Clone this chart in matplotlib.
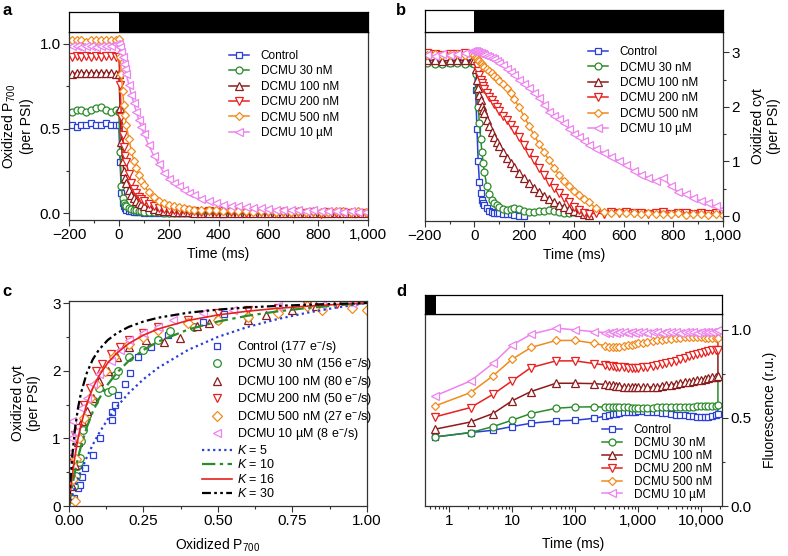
import numpy as np
import matplotlib.pyplot as plt
from matplotlib.ticker import MultipleLocator, FuncFormatter, LogLocator, NullFormatter, FixedLocator

plt.rcParams['font.family'] = ['Liberation Sans', 'DejaVu Sans']
plt.rcParams['mathtext.fontset'] = 'custom'
plt.rcParams['mathtext.rm'] = 'Liberation Sans'
plt.rcParams['mathtext.it'] = 'Liberation Sans:italic'
plt.rcParams['mathtext.bf'] = 'Liberation Sans:bold'
plt.rcParams['axes.linewidth'] = 0.9

labels = ['Control', 'DCMU 30 nM', 'DCMU 100 nM', 'DCMU 200 nM', 'DCMU 500 nM', 'DCMU 10 \u00b5M']
rates = ['177', '156', '80', '50', '27', '8']
colors = ['#2a3fd6', '#2a8c2a', '#8e1b1b', '#e8201e', '#f08c1e', '#ee82ee']
markers = ['s', 'o', '^', 'v', 'D', '<']
msizes = [4.5, 5, 5.5, 5.5, 4.5, 5.5]

# ---- panel a: oxidized P700 vs time
ta = [-190, -170, -150, -130, -110, -90, -70, -50, -30, -10,
      0, 5, 10, 15, 20, 25, 30, 40, 50, 60, 70, 80, 90, 100,
      120, 140, 160, 180, 200, 220, 240, 260, 280, 300,
      330, 360, 390, 420, 450, 480, 510, 540, 570, 600, 630, 660, 690,
      720, 750, 780, 810, 840, 870, 900, 930, 960, 990]
a_control = [0.52, 0.51, 0.52, 0.52, 0.53, 0.52, 0.52, 0.53, 0.52, 0.52,
             0.52, 0.30, 0.12, 0.06, 0.04, 0.03, 0.02, 0.015, 0.012, 0.01, 0.008, 0.006, 0.005, 0.004,
             0.003, 0.002, 0.002, 0.001, 0.0, 0.0, 0.0, 0.0, 0.0, 0.0,
             0.0, 0.002, 0.0, -0.002, 0.0, 0.001, 0.0, 0.0, 0.002, 0.0, 0.0, -0.001, 0.0,
             0.001, 0.0, 0.0, 0.0, 0.002, 0.0, 0.0, 0.0, 0.001, 0.0]
a_30 = [0.60, 0.61, 0.61, 0.60, 0.61, 0.62, 0.63, 0.61, 0.60, 0.61,
        0.60, 0.36, 0.16, 0.09, 0.06, 0.05, 0.04, 0.03, 0.025, 0.02, 0.018, 0.015, 0.012, 0.01,
        0.008, 0.006, 0.005, 0.004, 0.003, 0.002, 0.002, 0.001, 0.0, 0.0,
        0.002, 0.0, 0.001, 0.0, -0.001, 0.0, 0.002, 0.0, 0.0, 0.001, 0.0, 0.0, 0.0,
        0.0, 0.001, 0.0, 0.0, 0.0, 0.002, 0.0, 0.0, 0.0, 0.0]
a_100 = [0.82, 0.83, 0.83, 0.83, 0.83, 0.83, 0.83, 0.83, 0.83, 0.82,
         0.82, 0.62, 0.42, 0.31, 0.25, 0.21, 0.18, 0.14, 0.11, 0.09, 0.075, 0.062, 0.052, 0.045,
         0.034, 0.026, 0.02, 0.016, 0.012, 0.01, 0.008, 0.006, 0.005, 0.004,
         0.004, 0.003, 0.002, 0.003, 0.001, 0.002, 0.0, 0.002, 0.001, 0.0, 0.002, 0.0, 0.001,
         0.0, 0.002, 0.0, 0.001, 0.0, 0.0, 0.002, 0.0, 0.001, 0.0]
a_200 = [0.92, 0.93, 0.92, 0.93, 0.92, 0.93, 0.92, 0.93, 0.93, 0.92,
         0.92, 0.76, 0.57, 0.46, 0.39, 0.34, 0.30, 0.23, 0.18, 0.145, 0.118, 0.097, 0.082, 0.07,
         0.052, 0.04, 0.032, 0.026, 0.022, 0.02, 0.016, 0.018, 0.012, 0.015,
         0.01, 0.014, 0.008, 0.012, 0.006, 0.01, 0.004, 0.012, 0.006, 0.01, 0.002, 0.008, 0.004,
         0.01, 0.003, 0.008, -0.002, 0.006, 0.002, 0.008, 0.0, 0.004, 0.0]
a_500 = [1.02, 1.02, 1.02, 1.01, 1.02, 1.02, 1.02, 1.02, 1.02, 1.02,
         1.03, 0.92, 0.82, 0.72, 0.64, 0.58, 0.52, 0.44, 0.37, 0.31, 0.265, 0.225, 0.19, 0.165,
         0.125, 0.095, 0.075, 0.06, 0.05, 0.042, 0.035, 0.03, 0.025, 0.022,
         0.02, 0.018, 0.022, 0.015, 0.018, 0.012, 0.016, 0.01, 0.014, 0.012, 0.01, 0.015, 0.008,
         0.012, 0.01, 0.014, 0.008, 0.01, 0.012, 0.015, 0.008, 0.012, 0.006]
a_10u = [0.99, 0.99, 0.98, 0.99, 0.99, 0.98, 0.99, 0.99, 0.99, 1.0,
         1.0, 0.98, 0.95, 0.92, 0.88, 0.85, 0.82, 0.76, 0.70, 0.65, 0.60, 0.55, 0.51, 0.47,
         0.40, 0.34, 0.29, 0.24, 0.205, 0.18, 0.16, 0.14, 0.12, 0.105,
         0.085, 0.07, 0.06, 0.05, 0.045, 0.04, 0.035, 0.03, 0.028, 0.025, 0.022, 0.02, 0.02,
         0.018, 0.015, 0.018, 0.014, 0.012, 0.015, 0.01, 0.012, 0.01, 0.008]

# ---- panel b: oxidized cyt vs time (series end at different times)
tb = [-190, -160, -130, -100, -70, -40, -10,
      0, 5, 10, 15, 20, 25, 30, 35, 40, 50, 60, 70, 80, 90, 100,
      115, 130, 145, 160, 180, 200, 220, 240, 260, 280, 300, 320, 340, 360,
      380, 400, 420, 440, 460, 490, 520, 550, 580, 610, 640, 670, 700, 730,
      760, 790, 820, 850, 880, 910, 940, 970, 1000]
b_control = [2.82, 2.80, 2.80, 2.81, 2.82, 2.81, 2.82,
             2.80, 2.3, 1.6, 1.0, 0.62, 0.42, 0.3, 0.24, 0.2, 0.14, 0.1, 0.08, 0.065, 0.055, 0.05,
             0.04, 0.035, 0.03, 0.02, 0.01, 0.0]
b_30 = [2.80, 2.78, 2.79, 2.80, 2.80, 2.78, 2.80,
        2.78, 2.6, 2.3, 2.0, 1.7, 1.42, 1.18, 0.97, 0.8, 0.55, 0.4, 0.3, 0.24, 0.2, 0.16,
        0.13, 0.12, 0.13, 0.15, 0.13, 0.1, 0.08, 0.07, 0.09, 0.1, 0.11, 0.09, 0.07, 0.06,
        0.05, 0.08]
b_100 = [2.85, 2.86, 2.84, 2.85, 2.86, 2.85, 2.85,
         2.85, 2.7, 2.5, 2.35, 2.22, 2.12, 2.02, 1.95, 1.88, 1.76, 1.64, 1.54, 1.45, 1.36, 1.28,
         1.17, 1.07, 0.98, 0.9, 0.78, 0.69, 0.6, 0.52, 0.44, 0.37, 0.31, 0.26, 0.21, 0.17,
         0.13, 0.1, 0.07, 0.04, 0.02]
b_200 = [2.98, 2.97, 2.95, 2.97, 2.96, 2.98, 2.96,
         2.95, 2.85, 2.75, 2.66, 2.58, 2.5, 2.44, 2.38, 2.33, 2.25, 2.18, 2.12, 2.05, 1.99, 1.93,
         1.84, 1.75, 1.67, 1.58, 1.45, 1.31, 1.16, 1.02, 0.88, 0.75, 0.63, 0.52, 0.42, 0.33,
         0.25, 0.17, 0.11, 0.06, 0.03, 0.06, 0.04, 0.07, 0.05, 0.08, 0.05, 0.06, 0.04, 0.05,
         0.07, 0.04, 0.06, 0.05, 0.04, 0.06, 0.03, 0.05, 0.04]
b_500 = [2.95, 2.96, 2.95, 2.94, 2.96, 2.95, 2.96,
         2.95, 2.92, 2.89, 2.86, 2.83, 2.8, 2.78, 2.75, 2.73, 2.69, 2.65, 2.61, 2.57, 2.52, 2.48,
         2.41, 2.34, 2.25, 2.14, 1.99, 1.82, 1.65, 1.48, 1.32, 1.17, 1.02, 0.88, 0.76, 0.65,
         0.55, 0.46, 0.38, 0.31, 0.25, 0.14, 0.08, 0.06, 0.07, 0.05, 0.06, 0.04, 0.05, 0.03,
         0.04, 0.03, 0.05, 0.02, 0.04, 0.03, 0.02, 0.04, 0.02]
b_10u = [2.95, 2.93, 2.96, 2.94, 2.97, 2.99, 3.02,
         3.03, 3.02, 3.0, 3.01, 2.99, 2.98, 2.97, 2.97, 2.95, 2.93, 2.91, 2.89, 2.87, 2.84, 2.81,
         2.76, 2.7, 2.64, 2.58, 2.5, 2.42, 2.34, 2.26, 2.16, 2.03, 1.9, 1.84, 1.78, 1.7,
         1.6, 1.5, 1.45, 1.38, 1.3, 1.22, 1.16, 1.08, 1.01, 0.93, 0.82, 0.76, 0.7, 0.64,
         0.69, 0.55, 0.44, 0.4, 0.33, 0.28, 0.24, 0.18, 0.13]

# ---- panel c: oxidized cyt vs oxidized P700
c_x = [
    [0.017, 0.031, 0.037, 0.043, 0.054, 0.082, 0.104, 0.143, 0.145, 0.154, 0.166, 0.188, 0.206, 0.232, 0.275, 0.333, 0.45, 0.52],
    [0.01, 0.018, 0.024, 0.028, 0.033, 0.037, 0.04, 0.048, 0.062, 0.084, 0.1, 0.13, 0.143, 0.155, 0.165, 0.2, 0.25, 0.3, 0.34, 0.42, 0.5, 0.6],
    [0.01, 0.02, 0.03, 0.045, 0.06, 0.08, 0.1, 0.13, 0.16, 0.2, 0.26, 0.32, 0.373, 0.43, 0.47, 0.6, 0.66, 0.75, 0.83],
    [0.005, 0.01, 0.02, 0.03, 0.05, 0.07, 0.09, 0.11, 0.14, 0.17, 0.2, 0.25, 0.3, 0.4, 0.5, 0.6, 0.7, 0.8, 0.9],
    [0.02, 0.015, 0.025, 0.035, 0.05, 0.07, 0.09, 0.12, 0.15, 0.2, 0.25, 0.3, 0.4, 0.5, 0.6, 0.7, 0.8, 0.85, 0.95, 1.0],
    [0.005, 0.008, 0.01, 0.02, 0.04, 0.06, 0.08, 0.1, 0.14, 0.17, 0.2, 0.25, 0.3, 0.35, 0.45, 0.55, 0.7, 0.85, 0.95, 1.0],
]
c_y = [
    [0.12, 0.26, 0.31, 0.43, 0.56, 0.75, 1.0, 1.27, 1.39, 1.49, 1.64, 1.80, 1.97, 2.2, 2.35, 2.53, 2.72, 2.84],
    [0.1, 0.3, 0.45, 0.59, 0.65, 0.71, 0.96, 1.13, 1.35, 1.55, 1.75, 1.68, 1.72, 1.94, 2.0, 2.2, 2.31, 2.45, 2.58, 2.65, 2.75, 2.8],
    [0.3, 0.6, 0.95, 1.25, 1.4, 1.6, 1.85, 2.0, 2.2, 2.35, 2.45, 2.43, 2.49, 2.66, 2.7, 2.75, 2.82, 2.9, 2.95],
    [0.4, 0.7, 1.05, 1.15, 1.5, 1.75, 2.0, 2.1, 2.25, 2.35, 2.45, 2.55, 2.65, 2.75, 2.85, 2.9, 2.93, 2.97, 2.98],
    [0.08, 0.4, 0.7, 1.0, 1.3, 1.6, 1.8, 2.0, 2.2, 2.4, 2.5, 2.6, 2.7, 2.75, 2.8, 2.85, 2.95, 2.9, 2.93, 2.9],
    [0.8, 1.0, 1.25, 1.1, 1.45, 1.6, 1.8, 1.95, 2.15, 2.3, 2.45, 2.55, 2.65, 2.75, 2.85, 2.9, 2.95, 2.97, 3.0, 3.03],
]
k_x = [0, 0.005, 0.01, 0.02, 0.03, 0.04, 0.06, 0.08, 0.1, 0.13, 0.16, 0.2, 0.25, 0.3, 0.4, 0.5, 0.6, 0.7, 0.8, 0.9, 1.0]
k5 = [0, 0.074, 0.144, 0.278, 0.402, 0.517, 0.726, 0.909, 1.071, 1.283, 1.463, 1.667, 1.875, 2.045, 2.308, 2.5, 2.647, 2.763, 2.857, 2.935, 3.0]
k10 = [0, 0.144, 0.275, 0.508, 0.709, 0.882, 1.169, 1.395, 1.579, 1.797, 1.967, 2.143, 2.308, 2.432, 2.609, 2.727, 2.813, 2.877, 2.927, 2.967, 3.0]
k16 = [0, 0.223, 0.417, 0.738, 0.993, 1.2, 1.516, 1.745, 1.92, 2.115, 2.259, 2.4, 2.526, 2.618, 2.743, 2.824, 2.88, 2.922, 2.954, 2.979, 3.0]
k30 = [0, 0.393, 0.698, 1.139, 1.444, 1.667, 1.971, 2.169, 2.308, 2.453, 2.553, 2.647, 2.727, 2.784, 2.857, 2.903, 2.935, 2.958, 2.975, 2.989, 3.0]

# ---- panel d: fluorescence vs log time
td = [0.6, 2.2, 5, 10, 20, 50, 100, 200, 300, 350, 400, 450, 500, 600, 700, 800, 900, 1000,
      1200, 1400, 1700, 2000, 2400, 2800, 3300, 4000, 4700, 5500, 6500, 7500, 8700, 10000,
      11500, 13000, 15000, 17000, 18500]
d_control = [0.392, 0.417, 0.43, 0.451, 0.47, 0.483, 0.487, 0.498, 0.51, 0.516, 0.52, 0.524, 0.527, 0.531, 0.534, 0.535, 0.536, 0.537,
             0.537, 0.536, 0.534, 0.532, 0.529, 0.526, 0.522, 0.519, 0.516, 0.514, 0.512, 0.51, 0.508, 0.506,
             0.505, 0.507, 0.511, 0.517, 0.525]
d_30 = [0.392, 0.417, 0.451, 0.487, 0.525, 0.555, 0.562, 0.563, 0.562, 0.562, 0.561, 0.561, 0.56, 0.56, 0.56, 0.559, 0.559, 0.559,
        0.559, 0.559, 0.559, 0.56, 0.56, 0.56, 0.561, 0.561, 0.562, 0.562, 0.563, 0.564, 0.565, 0.566,
        0.567, 0.568, 0.569, 0.57, 0.572]
d_100 = [0.436, 0.477, 0.525, 0.597, 0.65, 0.697, 0.697, 0.695, 0.69, 0.687, 0.685, 0.683, 0.681, 0.678, 0.676, 0.675, 0.674, 0.673,
         0.673, 0.674, 0.676, 0.678, 0.681, 0.685, 0.689, 0.694, 0.698, 0.702, 0.706, 0.71, 0.714, 0.718,
         0.722, 0.726, 0.73, 0.734, 0.738]
d_200 = [0.506, 0.559, 0.634, 0.71, 0.786, 0.824, 0.824, 0.809, 0.80, 0.797, 0.794, 0.792, 0.79, 0.787, 0.786, 0.785, 0.785, 0.786,
         0.788, 0.79, 0.794, 0.798, 0.804, 0.81, 0.817, 0.826, 0.834, 0.842, 0.85, 0.857, 0.864, 0.87,
         0.875, 0.879, 0.883, 0.886, 0.888]
d_500 = [0.568, 0.644, 0.739, 0.833, 0.9, 0.94, 0.94, 0.924, 0.91, 0.905, 0.902, 0.9, 0.903, 0.907, 0.912, 0.916, 0.92, 0.923,
         0.928, 0.932, 0.937, 0.941, 0.945, 0.948, 0.951, 0.954, 0.956, 0.957, 0.958, 0.958, 0.958, 0.957,
         0.956, 0.955, 0.954, 0.953, 0.952]
d_10u = [0.625, 0.71, 0.81, 0.913, 0.975, 1.01, 1.0, 0.99, 0.985, 0.985, 0.99, 0.985, 0.99, 0.99, 0.985, 0.99, 0.985, 0.99,
         0.99, 0.985, 0.99, 0.99, 0.985, 0.99, 0.99, 0.99, 0.985, 0.99, 0.99, 0.99, 0.985, 0.99,
         0.99, 0.99, 0.99, 0.995, 1.0]
# value each trace jumps to at the last time point (vertical end segments)
d_end = [0.572, 0.738, 0.888, 0.952, None, None]

a_data = [a_control, a_30, a_100, a_200, a_500, a_10u]
b_data = [b_control, b_30, b_100, b_200, b_500, b_10u]
d_data = [d_control, d_30, d_100, d_200, d_500, d_10u]


def thousands(v, pos):
    if v >= 1 or v <= -1 or v == 0:
        return '{:,.0f}'.format(v).replace('-', '\u2212')
    return '{:g}'.format(v)


def style_axes(ax):
    ax.tick_params(which='both', direction='out', width=0.8, labelsize=11, pad=2, color='#333333')
    ax.tick_params(which='major', length=4)
    ax.tick_params(which='minor', length=2.5)
    for s in ax.spines.values():
        s.set_color('#333333')


def draw_bar(bax, xmin, xmax, black_from, black_to, log=False):
    if log:
        bax.set_xscale('log')
    bax.set_xlim(xmin, xmax)
    bax.set_ylim(0, 1)
    bax.axvspan(black_from, black_to, color='black', lw=0)
    bax.set_xticks([])
    bax.set_yticks([])
    bax.minorticks_off()
    for s in bax.spines.values():
        s.set_linewidth(0.9)


def series(ax, t, y, i, markevery=None):
    ax.plot(t, y, color=colors[i], lw=1.1, marker=markers[i], ms=msizes[i], mfc='white',
            mec=colors[i], mew=0.9, label=labels[i], markevery=markevery)


fig = plt.figure(figsize=(7.88, 5.56), dpi=100)

# panel a
ax = fig.add_axes([0.0876, 0.6043, 0.3794, 0.3381])
bar = fig.add_axes([0.0876, 0.9424, 0.3794, 0.036])
draw_bar(bar, -200, 1000, 0, 1000)
for i in range(6):
    series(ax, ta, a_data[i], i)
ax.set_xlim(-200, 1000)
ax.set_ylim(-0.04, 1.07)
ax.xaxis.set_major_locator(MultipleLocator(200))
ax.xaxis.set_minor_locator(MultipleLocator(100))
ax.xaxis.set_major_formatter(FuncFormatter(thousands))
ax.yaxis.set_major_locator(FixedLocator([0, 0.5, 1.0]))
ax.yaxis.set_minor_locator(FixedLocator([0.25, 0.75]))
ax.yaxis.set_major_formatter(FuncFormatter(lambda v, p: '{:.1f}'.format(v)))
style_axes(ax)
ax.set_xlabel('Time (ms)', fontsize=10, labelpad=3)
ax.set_ylabel('Oxidized P$_{700}$\n(per PSI)', fontsize=10, labelpad=4)
ax.legend(loc='upper left', bbox_to_anchor=(0.535, 0.905), frameon=False, fontsize=8.5,
          borderpad=0, borderaxespad=0, labelspacing=0.29, handlelength=1.7, handletextpad=1.0)
fig.text(0.003, 0.995, 'a', fontsize=12, fontweight='bold', va='top', ha='left')

# panel b
ax = fig.add_axes([0.539, 0.6025, 0.3786, 0.340])
bar = fig.add_axes([0.539, 0.9424, 0.3786, 0.0396])
draw_bar(bar, -200, 1000, 0, 1000)
for i in range(6):
    series(ax, tb[:len(b_data[i])], b_data[i], i)
ax.set_xlim(-200, 1000)
ax.set_ylim(-0.09, 3.37)
ax.xaxis.set_major_locator(MultipleLocator(200))
ax.xaxis.set_minor_locator(MultipleLocator(100))
ax.xaxis.set_major_formatter(FuncFormatter(thousands))
ax.yaxis.set_major_locator(FixedLocator([0, 1, 2, 3]))
ax.yaxis.set_minor_locator(FixedLocator([0.5, 1.5, 2.5]))
ax.yaxis.tick_right()
ax.yaxis.set_label_position('right')
style_axes(ax)
ax.set_xlabel('Time (ms)', fontsize=10, labelpad=3)
ax.set_ylabel('Oxidized cyt\n(per PSI)', fontsize=10, labelpad=8)
ax.legend(loc='upper left', bbox_to_anchor=(0.547, 0.925), frameon=False, fontsize=8.5,
          borderpad=0, borderaxespad=0, labelspacing=0.29, handlelength=1.7, handletextpad=1.0)
fig.text(0.502, 0.995, 'b', fontsize=12, fontweight='bold', va='top', ha='left')

# panel c
ax = fig.add_axes([0.0876, 0.0899, 0.378, 0.3687])
for i in range(6):
    ax.plot(c_x[i], c_y[i], ls='none', marker=markers[i], ms=msizes[i] + 0.5, mfc='white',
            mec=colors[i], mew=0.9, label='{} ({} e$^{{-}}$/s)'.format(labels[i], rates[i]))
ax.plot(k_x, k5, color='#2a3fd6', lw=1.6, ls=(0, (1, 1.5)), label='$K$ = 5')
ax.plot(k_x, k10, color='#2a8c2a', lw=1.6, ls=(0, (6, 2, 1.5, 2)), label='$K$ = 10')
ax.plot(k_x, k16, color='#e8201e', lw=1.2, ls='-', label='$K$ = 16')
ax.plot(k_x, k30, color='black', lw=1.6, ls=(0, (4, 1.5, 1.2, 1.5, 1.2, 1.5)), label='$K$ = 30')
ax.set_xlim(0, 1.0)
ax.set_ylim(0, 3.03)
ax.xaxis.set_major_locator(FixedLocator([0, 0.25, 0.5, 0.75, 1.0]))
ax.xaxis.set_minor_locator(FixedLocator([0.125, 0.375, 0.625, 0.875]))
ax.xaxis.set_major_formatter(FuncFormatter(lambda v, p: '{:.2f}'.format(v)))
ax.yaxis.set_major_locator(FixedLocator([0, 1, 2, 3]))
ax.yaxis.set_minor_locator(FixedLocator([0.5, 1.5, 2.5]))
style_axes(ax)
ax.set_xlabel('Oxidized P$_{700}$', fontsize=10, labelpad=6)
ax.set_ylabel('Oxidized cyt\n(per PSI)', fontsize=10, labelpad=8)
ax.legend(loc='upper left', bbox_to_anchor=(0.445, 0.815), frameon=False, fontsize=9,
          borderpad=0, borderaxespad=0, labelspacing=0.12, handlelength=2.4, handletextpad=0.4,
          numpoints=1)
fig.text(0.003, 0.49, 'c', fontsize=12, fontweight='bold', va='top', ha='left')

# panel d
ax = fig.add_axes([0.539, 0.0899, 0.3773, 0.3453])
bar = fig.add_axes([0.539, 0.4353, 0.3773, 0.0342])
draw_bar(bar, 0.413, 21500, 0.413, 0.62, log=True)
for i in range(6):
    t = list(td)
    y = list(d_data[i])
    if d_end[i] is not None:
        t.append(td[-1])
        y.append(d_end[i])
    series(ax, t, y, i, markevery=list(range(len(td))))
ax.set_xscale('log')
ax.set_xlim(0.413, 21500)
ax.set_ylim(0, 1.09)
ax.xaxis.set_major_locator(FixedLocator([1, 10, 100, 1000, 10000]))
ax.xaxis.set_minor_locator(LogLocator(base=10, subs=np.arange(2, 10)))
ax.xaxis.set_minor_formatter(NullFormatter())
ax.xaxis.set_major_formatter(FuncFormatter(thousands))
ax.yaxis.set_major_locator(FixedLocator([0, 0.5, 1.0]))
ax.yaxis.set_minor_locator(FixedLocator([0.25, 0.75]))
ax.yaxis.set_major_formatter(FuncFormatter(lambda v, p: '{:.1f}'.format(v)))
ax.yaxis.tick_right()
ax.yaxis.set_label_position('right')
style_axes(ax)
ax.set_xlabel('Time (ms)', fontsize=10, labelpad=6)
ax.set_ylabel('Fluorescence (r.u.)', fontsize=10, labelpad=8)
ax.legend(loc='upper left', bbox_to_anchor=(0.596, 0.425), frameon=False, fontsize=8.5,
          borderpad=0, borderaxespad=0, labelspacing=0.07, handlelength=1.7, handletextpad=1.0)
fig.text(0.503, 0.49, 'd', fontsize=12, fontweight='bold', va='top', ha='left')

fig.savefig('out.png', dpi=100)
